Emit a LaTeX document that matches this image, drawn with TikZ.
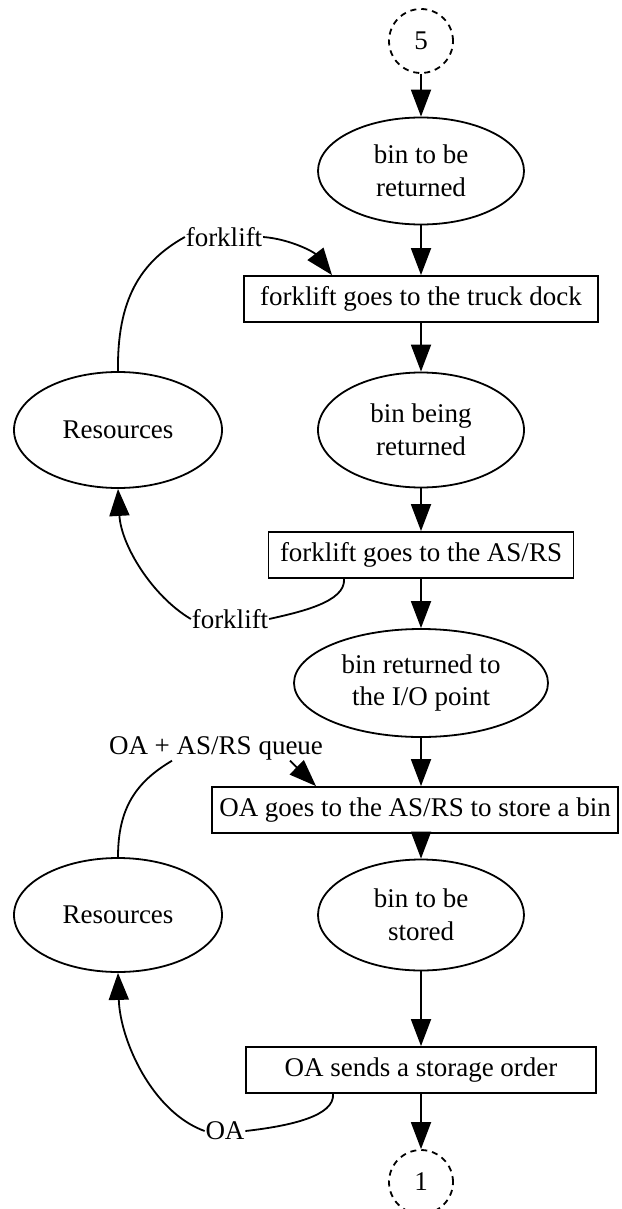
\documentclass[tikz,border=0pt]{standalone}
\usepackage{fontspec}
\setmainfont{Liberation Serif}
\usetikzlibrary{arrows.meta,shapes.geometric}
\begin{document}
\begin{tikzpicture}[x=1pt,y=-1pt,
  line width=1.8pt,
  every node/.style={font=\fontsize{27}{32.5}\selectfont, align=center},
  state/.style={draw, ellipse, inner sep=0pt, line width=1.8pt},
  task/.style={draw, rectangle, minimum height=46pt, inner xsep=4pt, inner ysep=0pt, line width=1.8pt},
  link/.style={draw, circle, dashed, dash pattern=on 6pt off 5pt, minimum size=64pt, inner sep=0pt, line width=1.8pt},
  elabel/.style={inner sep=0pt},
  flow/.style={-{Triangle[length=27pt,width=20pt]}},
]
\useasboundingbox (0,0) rectangle (621,1209);

% main process column
\node[link] (c5) at (421,41) {5};
\node[state, minimum width=206pt, minimum height=107pt] (e1) at (421,171) {bin to be\\returned};
\node[task, minimum width=354pt] (b1) at (421,299) {forklift goes to the truck dock};
\node[state, minimum width=206pt, minimum height=115pt] (e2) at (421,430) {bin being\\returned};
\node[task, minimum width=305pt] (b2) at (421,555) {forklift goes to the AS/RS};
\node[state, minimum width=254pt, minimum height=108pt] (e3) at (421,683) {bin returned to\\the I/O point};
\node[task, minimum width=406pt] (b3) at (415,810) {OA goes to the AS/RS to store a bin};
\node[state, minimum width=206pt, minimum height=111pt] (e4) at (421,915) {bin to be\\stored};
\node[task, minimum width=350pt] (b4) at (421,1070) {OA sends a storage order};
\node[link] (c1) at (421,1182) {1};

% resource pools
\node[state, minimum width=208pt, minimum height=116pt] (r1) at (118,430) {Resources};
\node[state, minimum width=208pt, minimum height=114pt] (r2) at (118,915) {Resources};

% edge labels
\node[elabel] (l1) at (224,237) {forklift};
\node[elabel] (l2) at (230,619) {forklift};
\node[elabel] (l3) at (216,748) {OA + AS/RS queue};
\node[elabel] (l4) at (225,1131) {OA};

% main flow
\draw[flow] (c5) -- (e1);
\draw[flow] (e1) -- (b1);
\draw[flow] (b1) -- (e2);
\draw[flow] (e2) -- (b2);
\draw[flow] (b2) -- (e3);
\draw[flow] (e3.south) -- (e3.south |- b3.north);
\draw[flow] (b3.south -| e4.north) -- (e4.north);
\draw[flow] (e4) -- (b4);
\draw[flow] (b4) -- (c1);

% forklift seized and released
\draw (r1.north) .. controls (117,300) and (140,262) .. (l1.west);
\draw[flow] (l1.east) .. controls (290,239) and (314,252) .. ([xshift=-89pt]b1.north);
\draw ([xshift=-77pt]b2.south) .. controls (346,602) and (300,612) .. (l2.east);
\draw[flow] (l2.west) .. controls (152,596) and (121,545) .. (r1.south);

% order agent seized and released
\draw (r2.north) .. controls (118,808) and (136,782) .. ([xshift=-44pt]l3.south);
\draw[flow] ([xshift=74pt]l3.south) -- ([xshift=-99pt]b3.north);
\draw ([xshift=-88pt]b4.south) .. controls (335,1116) and (290,1126) .. (l4.east);
\draw[flow] (l4.west) .. controls (152,1112) and (120,1040) .. (r2.south);
\end{tikzpicture}
\end{document}
